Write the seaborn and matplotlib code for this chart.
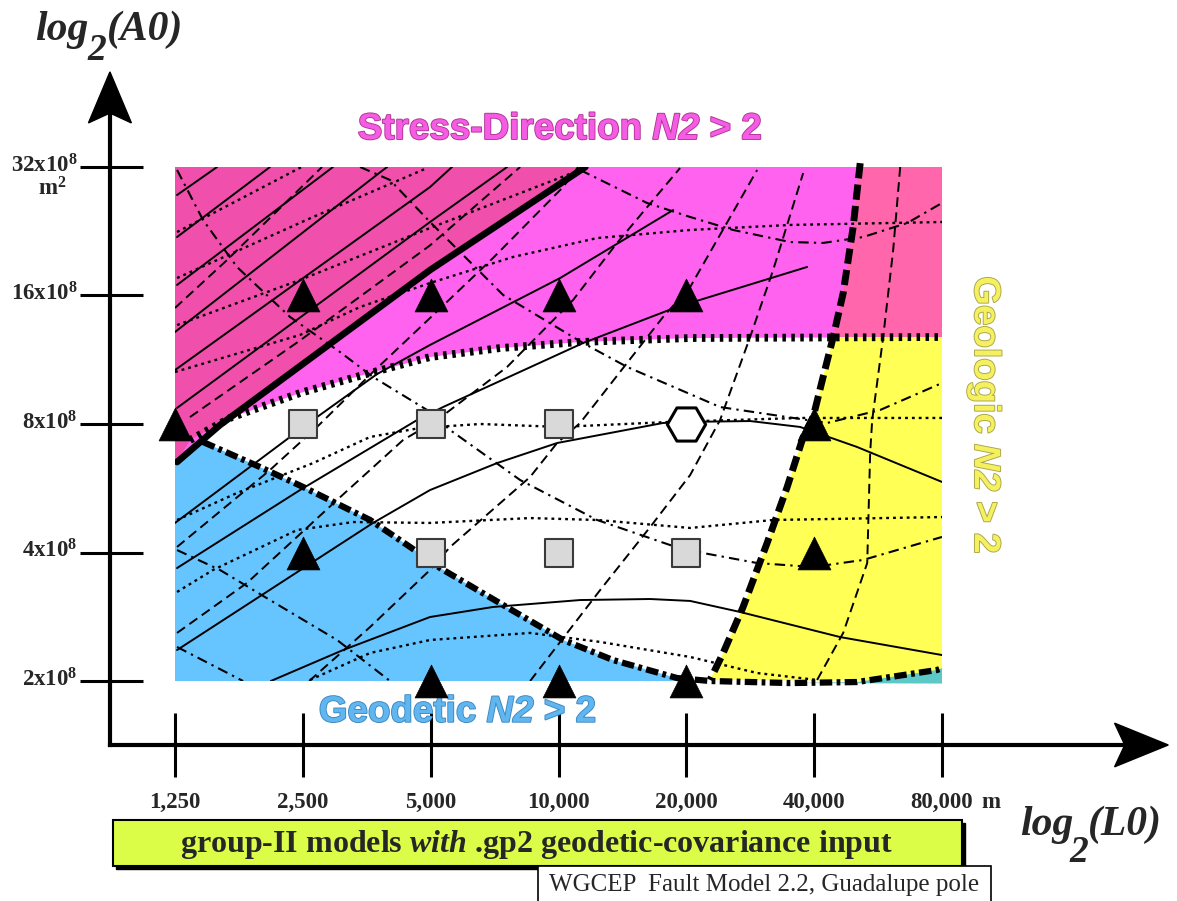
import matplotlib.pyplot as plt
import matplotlib.patheffects as pe
from matplotlib.patches import Rectangle, Polygon
import seaborn as sns

# grid units: x = log2(L0 / 1250 m), y = log2(A0 / 2x10^8 m^2)
x_ticks = [0, 1, 2, 3, 4, 5, 6]
x_labels = ['1,250', '2,500', '5,000', '10,000', '20,000', '40,000', '80,000']
y_ticks = [0, 1, 2, 3, 4]
y_labels = ['2x10^{8}', '4x10^{8}', '8x10^{8}', '16x10^{8}', '32x10^{8}']

# model runs
tri_x = [0, 1, 2, 3, 4, 5, 1, 5, 2, 3, 4]
tri_y = [2, 3, 3, 3, 3, 2, 1, 1, 0, 0, 0]
sq_x = [1, 2, 3, 2, 3, 4]
sq_y = [2, 2, 2, 1, 1, 1]
hex_x = [4]
hex_y = [2]

# region boundaries
thick_solid = ([0.016, 0.352, 0.978, 1.995, 3.21],
               [1.704, 1.992, 2.451, 3.198, 4.0])
stress_edge = ([0.117, 0.430, 0.978, 1.526, 1.995, 2.543, 3.169, 4.030, 6.0],
               [1.875, 2.047, 2.241, 2.397, 2.521, 2.591, 2.638, 2.669, 2.677])
geologic_edge = ([5.36, 5.305, 5.227, 5.149, 5.070, 4.992, 4.914, 4.789, 4.632, 4.444, 4.288, 4.186],
                 [4.03, 3.533, 3.019, 2.677, 2.366, 2.054, 1.899, 1.510, 1.074, 0.576, 0.218, 0.008])
geodetic_edge = ([0.219, 0.665, 1.002, 1.526, 1.839, 2.074, 2.567, 3.036, 3.427, 3.928, 4.186, 4.812, 5.336, 5.962, 6.0],
                 [1.860, 1.665, 1.510, 1.253, 1.043, 0.879, 0.591, 0.319, 0.163, 0.023, 0.0, -0.016, -0.008, 0.086, 0.10])

# solid contours
solid_a1 = ([0.016, 0.329], [3.782, 4.0])
solid_a2 = ([0.016, 0.743], [3.455, 4.0])
solid_a3 = ([0.016, 1.236], [3.082, 4.0])
solid_a4 = ([0.0, 1.628, 1.66], [2.716, 3.977, 4.0])
solid_a5 = ([0.0, 1.995, 2.167], [2.420, 3.844, 4.0])
solid_a6 = ([0.016, 1.995, 2.598], [2.125, 3.572, 4.0])
solid_b1 = ([0.0, 0.900, 1.111, 1.581, 1.995, 3.013, 3.897],
            [1.23, 1.899, 2.054, 2.389, 2.615, 3.136, 3.665])
solid_b2 = ([0.016, 0.978, 1.894, 2.097, 3.192, 3.928, 4.945],
            [0.879, 1.486, 2.031, 2.132, 2.630, 2.911, 3.222])
solid_b3 = ([0.016, 1.549, 1.995, 2.520, 2.989, 3.818, 3.998, 4.499, 4.890, 5.336, 6.0],
            [0.241, 1.230, 1.486, 1.696, 1.852, 2.008, 2.016, 2.023, 1.977, 1.821, 1.549])
solid_b4 = ([0.75, 1.315, 1.995, 2.488, 3.169, 3.717, 4.030, 4.421, 5.203, 6.0],
            [0.0, 0.241, 0.498, 0.576, 0.630, 0.638, 0.623, 0.537, 0.342, 0.202])

# dashed contours
dash_1 = ([0.0, 0.407, 1.15], [2.903, 3.276, 4.0])
dash_2 = ([0.117, 0.978, 1.995, 2.7], [2.054, 2.65, 3.39, 4.0])
dash_3 = ([0.016, 0.743, 1.111, 1.549, 1.995, 2.488, 3.036, 3.153],
          [1.043, 1.642, 1.977, 2.405, 2.825, 3.292, 3.844, 4.0])
dash_4 = ([0.016, 0.563, 1.268, 1.784, 2.050, 2.598, 3.114, 3.458, 3.951],
          [0.374, 0.763, 1.409, 1.875, 2.031, 2.444, 2.965, 3.409, 3.992])
dash_5 = ([1.05, 1.526, 1.995, 2.152, 2.778, 2.989, 3.169, 3.818, 4.030, 4.554],
          [0.0, 0.420, 0.864, 1.043, 1.588, 1.852, 2.008, 2.833, 3.066, 3.977])
dash_6 = ([2.778, 3.326, 3.717, 4.030, 4.264, 4.499, 4.679, 4.914],
          [0.0, 0.708, 1.198, 1.603, 2.031, 2.677, 3.198, 3.953])
dash_7 = ([5.023, 5.227, 5.415, 5.438, 5.454, 5.540, 5.618, 5.673],
          [0.008, 0.374, 0.918, 1.774, 2.031, 2.677, 3.354, 4.0])

# dotted contours
dot_1 = ([0.016, 0.99], [3.494, 4.0])
dot_2 = ([0.016, 1.080, 1.972], [3.136, 3.611, 3.992])
dot_3 = ([0.016, 0.978, 1.995, 3.169], [2.770, 3.121, 3.525, 3.977])
dot_4 = ([0.0, 0.978, 1.448, 1.995, 2.645, 3.302, 4.030, 4.812, 6.0],
         [2.405, 2.693, 2.911, 3.097, 3.300, 3.447, 3.510, 3.549, 3.572])
dot_5 = ([0.016, 0.485, 1.080, 1.526, 1.917, 2.387, 3.013, 3.873, 4.890, 6.0],
         [1.253, 1.463, 1.696, 1.899, 1.969, 2.0, 1.977, 2.016, 2.047, 2.047])
dot_6 = ([0.016, 0.297, 0.955, 1.393, 1.995, 2.778, 3.302, 4.030, 4.679, 6.0],
         [0.693, 0.864, 1.175, 1.237, 1.230, 1.268, 1.253, 1.191, 1.253, 1.276])
dot_7 = ([1.056, 1.526, 1.995, 2.778, 3.326, 4.030, 4.554, 5.023],
         [0.008, 0.218, 0.319, 0.374, 0.304, 0.187, 0.062, 0.008])

# dash-dot contours
dd_1 = ([0.016, 0.219, 0.485, 0.900, 1.291, 1.549, 1.972, 2.152, 2.700, 3.302, 3.873, 4.131, 4.554, 4.992, 5.383, 6.0],
        [3.977, 3.588, 3.222, 2.833, 2.560, 2.366, 2.109, 1.953, 1.564, 1.253, 1.058, 0.996, 0.918, 0.887, 0.942, 1.121])
dd_2 = ([3.169, 3.693, 4.030, 4.366, 4.812, 5.070, 5.383, 5.728, 6.0],
        [3.977, 3.720, 3.611, 3.510, 3.416, 3.409, 3.455, 3.564, 3.720])
dd_3 = ([1.448, 1.682, 1.995, 2.567, 3.192, 3.537, 4.264, 4.945, 5.102, 5.516, 6.0],
        [4.0, 3.899, 3.572, 3.004, 2.630, 2.444, 2.132, 2.031, 2.008, 2.109, 2.319])
dd_4 = ([0.016, 0.352, 0.743, 1.268, 1.682], [1.019, 0.864, 0.630, 0.319, 0.0])
dd_5 = ([0.016, 0.532], [0.265, 0.0])

sns.set_style('white')
plt.rcParams['font.family'] = ['Liberation Serif', 'DejaVu Sans']
plt.rcParams['mathtext.fontset'] = 'custom'
plt.rcParams['mathtext.rm'] = 'Liberation Serif:bold'
plt.rcParams['mathtext.bf'] = 'Liberation Serif:bold'
plt.rcParams['mathtext.it'] = 'Liberation Serif:italic:bold'
plt.rcParams['mathtext.sf'] = 'Liberation Sans:italic:bold'

fig = plt.figure(figsize=(11.77, 9.01), dpi=100)
ax = fig.add_axes([175 / 1177, 220 / 901, 767 / 1177, 514 / 901])
ax.set_xlim(0, 6)
ax.set_ylim(0, 4)
ax.set_axis_off()

# coloured regions
ts_x, ts_y = thick_solid
se_x, se_y = stress_edge
ge_x, ge_y = geologic_edge
gd_x, gd_y = geodetic_edge
ax.fill([0] + ts_x[::-1] + [0], [4] + ts_y[::-1] + [1.70], color='#f04fab', lw=0, zorder=1)
ax.fill(ts_x + [6, 6] + se_x[::-1], ts_y + [4, 4] + se_y[::-1], color='#ff62ee', lw=0, zorder=1)
ax.fill(ge_x[:4] + [6, 6], ge_y[:4] + [2.677, 4.03], color='#ff66ab', lw=0, zorder=1)
ax.fill(ge_x[3:] + [6, 6], ge_y[3:] + [0, 2.677], color='#ffff55', lw=0, zorder=1)
ax.fill([0, 0, 0.016] + gd_x[:10] + [4.0], [0, 1.70, 1.704] + gd_y[:10] + [0], color='#66c4ff', lw=0, zorder=1)
ax.fill(gd_x[11:] + [6], gd_y[11:] + [-0.02], color='#5cc8c8', lw=0, zorder=1, clip_on=False)


def draw(line, ls, lw=1.4, z=3, clip=True):
    sns.lineplot(x=line[0], y=line[1], sort=False, estimator=None, color='black',
                 linestyle=ls, linewidth=lw, zorder=z, clip_on=clip,
                 dash_capstyle='butt', ax=ax)


for ln in [solid_a1, solid_a2, solid_a3, solid_a4, solid_a5, solid_a6,
           solid_b1, solid_b2, solid_b3, solid_b4]:
    draw(ln, '-')
for ln in [dash_1, dash_2, dash_3, dash_4, dash_5, dash_6, dash_7]:
    draw(ln, (0, (5, 2.8)))
for ln in [dot_1, dot_2, dot_3, dot_4, dot_5, dot_6, dot_7]:
    draw(ln, (0, (1.2, 1.7)), lw=1.7)
for ln in [dd_1, dd_2, dd_3, dd_4, dd_5]:
    draw(ln, (0, (5, 2.5, 1.1, 2.5)), lw=1.5)

draw(thick_solid, '-', lw=4.8, z=4)
draw(stress_edge, (0, (0.45, 0.7)), lw=5.6, z=4)
draw(geologic_edge, (0, (2.2, 0.9)), lw=5, z=4, clip=False)
draw(geodetic_edge, (0, (2.0, 0.7, 0.6, 0.7)), lw=4.5, z=4, clip=False)

# markers
sns.scatterplot(x=tri_x, y=tri_y, marker='^', s=560, color='black', edgecolor='black',
                linewidth=0.5, zorder=6, clip_on=False, ax=ax)
sns.scatterplot(x=sq_x, y=sq_y, marker='s', s=400, color='#d9d9d9', edgecolor='#3a3a3a',
                linewidth=1.5, zorder=6, clip_on=False, ax=ax)
sns.scatterplot(x=hex_x, y=hex_y, marker='H', s=760, color='white', edgecolor='black',
                linewidth=2.2, zorder=6, clip_on=False, ax=ax)

# hand drawn axes with notched arrow heads
x0, y0 = -0.509, -0.498
ytip, xtip = 4.74, 7.77
ax.plot([x0, x0], [y0, ytip - 0.3], color='black', lw=3, clip_on=False, solid_capstyle='projecting')
ax.plot([x0, xtip - 0.3], [y0, y0], color='black', lw=3, clip_on=False, solid_capstyle='projecting')
ax.add_patch(Polygon([(x0, ytip), (x0 + 0.168, ytip - 0.397), (x0, ytip - 0.32),
                      (x0 - 0.168, ytip - 0.397)], closed=True, color='black', clip_on=False))
ax.add_patch(Polygon([(xtip, y0), (xtip - 0.42, y0 + 0.17), (xtip - 0.34, y0),
                      (xtip - 0.42, y0 - 0.17)], closed=True, color='black', clip_on=False))
for t in y_ticks:
    ax.plot([-0.743, -0.25], [t, t], color='black', lw=2.2, clip_on=False, solid_capstyle='butt')
for t in x_ticks:
    ax.plot([t, t], [-0.249, -0.747], color='black', lw=2.2, clip_on=False, solid_capstyle='butt')

for t, lab in zip(y_ticks, y_labels):
    ax.text(-0.76, t - 0.04, r'$\mathbf{' + lab + '}$', ha='right', va='baseline', fontsize=16.5)
ax.text(-0.96, 3.78, r'$\mathbf{m^{2}}$', ha='center', va='baseline', fontsize=16.5)
for t, lab in zip(x_ticks, x_labels):
    ax.text(t, -0.99, lab, ha='center', va='baseline', fontsize=16.5, fontweight='bold')
ax.text(6.31, -0.99, 'm', ha='left', va='baseline', fontsize=16.5, fontweight='bold')

# axis titles, subscript drawn large like the original
bi = dict(fontsize=30, fontweight='bold', fontstyle='italic', ha='left', va='baseline')
ax.text(-1.095, 4.99, 'log', **bi)
ax.text(-0.685, 4.83, '2', **{**bi, 'fontsize': 27})
ax.text(-0.535, 4.99, '(A0)', **bi)
ax.text(6.612, -1.198, 'log', **bi)
ax.text(7.0, -1.41, '2', **{**bi, 'fontsize': 27})
ax.text(7.14, -1.198, '(L0)', **bi)

# region names
lab_kw = dict(ha='center', va='center', fontsize=26.5, fontweight='bold', family='Liberation Sans')
ax.text(3.01, 4.29, r'Stress-Direction $\mathsf{N2}$ > 2', color='#f45ce4',
        path_effects=[pe.withStroke(linewidth=1.3, foreground='#b03494')], **lab_kw)
ax.text(2.21, -0.245, r'Geodetic $\mathsf{N2}$ > 2', color='#62b6f0',
        path_effects=[pe.withStroke(linewidth=1.3, foreground='#3a88c0')], **lab_kw)
ax.text(6.33, 2.07, r'Geologic $\mathsf{N2}$ > 2', color='#f4f060', rotation=270,
        path_effects=[pe.withStroke(linewidth=1.3, foreground='#a8a448')], **lab_kw)

# caption boxes
ax.add_patch(Rectangle((-0.46, -1.465), 6.643, 0.358, color='black', clip_on=False, zorder=5))
ax.add_patch(Rectangle((-0.485, -1.44), 6.643, 0.358, facecolor='#dcfd48', edgecolor='black',
                       lw=1.5, clip_on=False, zorder=6))
ax.text(2.83, -1.27, r'group-II models $\mathit{with}$ .gp2 geodetic-covariance input',
        ha='center', va='center', fontsize=23, fontweight='bold', zorder=7)
ax.add_patch(Rectangle((2.84, -1.75), 3.54, 0.31, facecolor='white', edgecolor='black',
                       lw=1.2, clip_on=False, zorder=7))
ax.text(4.61, -1.585, 'WGCEP  Fault Model 2.2, Guadalupe pole', ha='center', va='center',
        fontsize=18, zorder=8)

fig.savefig('out.png', dpi=100)
